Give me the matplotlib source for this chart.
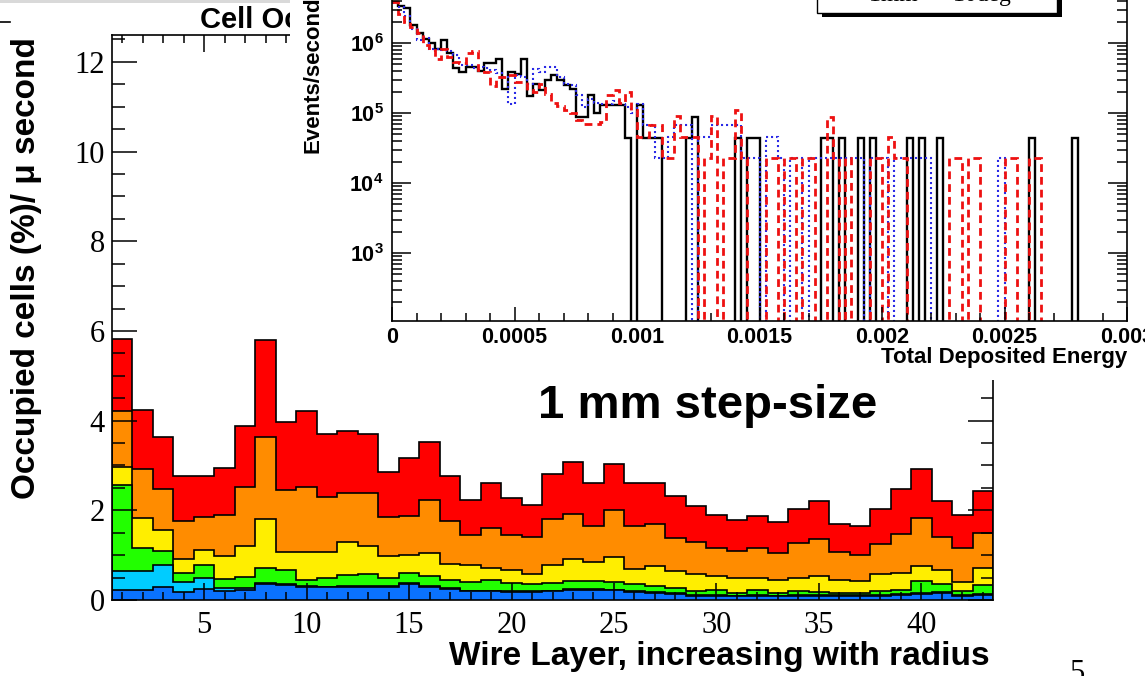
import numpy as np
import matplotlib.pyplot as plt
from matplotlib.patches import Rectangle
from matplotlib.lines import Line2D
from matplotlib.transforms import Bbox, TransformedBbox
from matplotlib.ticker import MultipleLocator, FixedLocator, LogLocator, NullFormatter

plt.rcParams['font.family'] = ['Liberation Sans', 'DejaVu Sans']
plt.rcParams['mathtext.fontset'] = 'custom'
plt.rcParams['mathtext.rm'] = 'Liberation Sans:bold'
plt.rcParams['mathtext.bf'] = 'Liberation Sans:bold'

W, H = 1145, 676

# main plot: cumulative stack tops per wire layer (1..43)
layers = np.arange(1, 44)
top_red = [5.83, 4.24, 3.64, 2.77, 2.77, 2.94, 3.89, 5.79, 3.97, 4.21,
           3.71, 3.77, 3.71, 2.85, 3.17, 3.52, 2.77, 2.24, 2.60, 2.28,
           2.12, 2.80, 3.08, 2.62, 3.04, 2.61, 2.60, 2.33, 2.09, 1.89,
           1.78, 1.88, 1.73, 2.04, 2.21, 1.69, 1.66, 2.02, 2.48, 2.92,
           2.21, 1.89, 2.42]
top_orange = [4.21, 2.92, 2.47, 1.76, 1.86, 1.89, 2.51, 3.63, 2.45, 2.51,
              2.29, 2.39, 2.39, 1.84, 1.88, 2.23, 1.77, 1.44, 1.60, 1.45,
              1.41, 1.80, 1.92, 1.65, 2.00, 1.65, 1.69, 1.39, 1.29, 1.17,
              1.10, 1.17, 1.04, 1.28, 1.37, 1.06, 1.01, 1.25, 1.48, 1.83,
              1.41, 1.15, 1.50]
top_yellow = [2.96, 1.82, 1.56, 0.91, 1.11, 0.98, 1.21, 1.80, 1.07, 1.07,
              1.07, 1.30, 1.21, 0.98, 1.01, 1.04, 0.80, 0.77, 0.72, 0.68,
              0.57, 0.78, 0.92, 0.85, 0.96, 0.70, 0.76, 0.64, 0.57, 0.54,
              0.48, 0.50, 0.44, 0.49, 0.54, 0.45, 0.42, 0.57, 0.61, 0.76,
              0.68, 0.40, 0.72]
top_green = [2.57, 1.17, 1.10, 0.61, 0.78, 0.46, 0.51, 0.72, 0.66, 0.45,
             0.50, 0.55, 0.57, 0.50, 0.60, 0.54, 0.44, 0.41, 0.44, 0.37,
             0.35, 0.39, 0.43, 0.43, 0.40, 0.35, 0.31, 0.27, 0.20, 0.22,
             0.16, 0.22, 0.16, 0.19, 0.18, 0.16, 0.16, 0.19, 0.23, 0.42,
             0.35, 0.20, 0.33]
top_cyan = [0.65, 0.65, 0.79, 0.40, 0.50, 0.26, 0.27, 0.38, 0.35, 0.31,
            0.30, 0.31, 0.31, 0.32, 0.38, 0.32, 0.26, 0.21, 0.21, 0.20,
            0.20, 0.20, 0.24, 0.24, 0.23, 0.19, 0.17, 0.15, 0.11, 0.12,
            0.10, 0.12, 0.10, 0.12, 0.12, 0.11, 0.11, 0.12, 0.14, 0.16,
            0.18, 0.12, 0.14]
top_blue = [0.23, 0.23, 0.28, 0.17, 0.25, 0.20, 0.23, 0.36, 0.33, 0.29,
            0.28, 0.29, 0.29, 0.30, 0.36, 0.30, 0.24, 0.19, 0.19, 0.18,
            0.18, 0.19, 0.23, 0.23, 0.22, 0.18, 0.16, 0.14, 0.10, 0.10,
            0.08, 0.10, 0.08, 0.10, 0.10, 0.09, 0.09, 0.10, 0.12, 0.14,
            0.16, 0.10, 0.12]
stack_colors = ['#ff0000', '#ff8c00', '#ffee00', '#22ff00', '#00ccff', '#0a72ff']

# inset: events/second vs total deposited energy, 120 bins in 0..0.003
e_edges = np.linspace(0, 0.003, 121)
ev_solid = [3.9e6, 3.4e6, 3.2e6, 1.8e6, 1.4e6, 1.15e6, 1.0e6, 8.3e5, 1.12e6, 7.1e5,
            4.4e5, 3.9e5, 4.6e5, 4.6e5, 4.0e5, 5.2e5, 5.2e5, 6.0e5, 2.2e5, 3.9e5,
            3.6e5, 6.0e5, 1.75e5, 2.6e5, 2.15e5, 2.95e5, 3.5e5, 2.95e5, 2.5e5, 2.2e5,
            8.8e4, 8.8e4, 1.8e5, 1.0e5, 1.32e5, 1.32e5, 1.32e5, 1.32e5, 4.4e4, 0,
            1.32e5, 4.4e4, 4.4e4, 4.4e4, 0, 0, 0, 0, 4.4e4, 8.8e4,
            0, 0, 0, 0, 0, 0, 4.4e4, 0, 4.4e4, 4.4e4,
            0, 0, 0, 0, 0, 0, 0, 0, 0, 0,
            4.4e4, 4.4e4, 0, 4.4e4, 0, 0, 4.4e4, 0, 4.4e4, 0,
            0, 0, 0, 0, 4.4e4, 0, 4.4e4, 0, 0, 4.4e4,
            0, 0, 0, 0, 0, 0, 0, 0, 0, 0,
            0, 0, 0, 0, 4.4e4, 0, 0, 0, 0, 0,
            0, 4.4e4, 0, 0, 0, 0, 0, 0, 0, 0]
ev_dotted = [3.7e6, 3.3e6, 2.4e6, 1.6e6, 1.12e6, 1.17e6, 8.3e5, 8.3e5, 7.9e5, 7.8e5,
             6.8e5, 4.9e5, 4.9e5, 4.4e5, 4.5e5, 4.4e5, 4.1e5, 3.7e5, 3.3e5, 1.35e5,
             3.5e5, 3.3e5, 2.6e5, 4.2e5, 3.9e5, 4.6e5, 4.6e5, 3.3e5, 2.6e5, 2.5e5,
             1.8e5, 1.2e5, 1.6e5, 1.4e5, 1.35e5, 1.35e5, 1.5e5, 1.35e5, 1.2e5, 1.0e5,
             1.35e5, 6.7e4, 6.7e4, 2.25e4, 2.25e4, 4.5e4, 6.7e4, 6.7e4, 6.7e4, 0,
             4.5e4, 4.5e4, 6.7e4, 6.7e4, 6.7e4, 6.7e4, 6.7e4, 2.25e4, 2.25e4, 2.25e4,
             0, 4.5e4, 4.5e4, 2.25e4, 0, 2.25e4, 2.25e4, 0, 2.25e4, 2.25e4,
             2.25e4, 2.25e4, 2.25e4, 2.25e4, 2.25e4, 2.25e4, 2.25e4, 0, 2.25e4, 2.25e4,
             2.25e4, 0, 2.25e4, 2.25e4, 2.25e4, 2.25e4, 2.25e4, 2.25e4, 0, 0,
             0, 0, 0, 0, 0, 0, 0, 0, 0, 2.25e4,
             0, 0, 0, 0, 0, 0, 0, 0, 0, 0,
             0, 0, 0, 0, 0, 0, 0, 0, 0, 0]
ev_dashed = [3.9e6, 2.6e6, 2.0e6, 1.7e6, 1.4e6, 9.3e5, 7.9e5, 6.0e5, 8.1e5, 6.3e5,
             5.4e5, 5.1e5, 7.1e5, 7.6e5, 4.1e5, 3.9e5, 2.45e5, 3.3e5, 3.3e5, 3.5e5,
             2.8e5, 2.8e5, 2.15e5, 2.0e5, 2.6e5, 1.9e5, 1.4e5, 1.25e5, 1.1e5, 1.0e5,
             8.0e4, 7.0e4, 7.0e4, 7.0e4, 7.5e4, 1.8e5, 2.1e5, 1.4e5, 2.0e5, 1.1e5,
             4.5e4, 4.5e4, 6.7e4, 6.7e4, 2.25e4, 2.25e4, 9.0e4, 4.5e4, 4.5e4, 4.5e4,
             0, 2.25e4, 9.0e4, 0, 2.25e4, 2.25e4, 1.1e5, 2.25e4, 0, 0,
             0, 2.25e4, 2.25e4, 0, 2.25e4, 2.25e4, 0, 2.25e4, 2.25e4, 0,
             0, 8.8e4, 2.25e4, 0, 2.25e4, 0, 0, 0, 2.25e4, 2.25e4,
             0, 4.5e4, 2.25e4, 2.25e4, 0, 0, 0, 0, 0, 0,
             0, 2.25e4, 2.25e4, 0, 2.25e4, 2.25e4, 0, 0, 0, 0,
             2.25e4, 2.25e4, 0, 0, 2.25e4, 2.25e4, 0, 0, 0, 0,
             0, 0, 0, 0, 0, 0, 0, 0, 0, 0]


def fx(px):
    return px / W


def fy(py):
    return 1 - py / H


fig = plt.figure(figsize=(W / 100, H / 100), dpi=100)

# ---- main stacked histogram
ax = fig.add_axes([fx(112), fy(600), 881 / W, 565 / H])
ax.set_zorder(1)
edges = np.append(layers - 0.5, layers[-1] + 0.5)
tops = [top_red, top_orange, top_yellow, top_green, top_cyan, top_blue]
for i, (top, col) in enumerate(zip(tops, stack_colors)):
    ax.stairs(top, edges, fill=True, facecolor=col, edgecolor='black',
              linewidth=1.2, zorder=1 + i * 0.1)
ax.set_axisbelow(False)
ax.set_xlim(0.5, 43.5)
ax.set_ylim(0, 12.6)
ax.set_xticks(range(5, 45, 5), labels=[str(v) for v in range(5, 45, 5)],
              fontfamily=['Liberation Serif'], fontsize=22)
ax.set_yticks(range(0, 13, 2), labels=[str(v) for v in range(0, 13, 2)],
              fontfamily=['Liberation Serif'], fontsize=22)
ax.xaxis.set_minor_locator(MultipleLocator(1))
ax.yaxis.set_minor_locator(MultipleLocator(0.5))
ax.tick_params(which='both', direction='in', top=True, right=True, width=1.1)
ax.tick_params(axis='y', which='major', length=18, pad=5)
ax.tick_params(axis='y', which='minor', length=9)
ax.tick_params(axis='x', which='major', length=12, pad=8)
ax.tick_params(axis='x', which='minor', length=6)
for s in ax.spines.values():
    s.set_linewidth(1.2)

# title of the main plot, hidden behind the pasted inset from x=290 on
title = fig.text(fx(200), fy(20), 'Cell Occupancy', fontsize=21, fontweight='bold',
                 ha='left', va='center', zorder=0.5)
title.set_clip_box(TransformedBbox(Bbox([[0, 0], [fx(290), 1]]), fig.transFigure))
title.set_clip_on(True)

fig.text(fx(27), fy(268), 'Occupied cells (%)/ \u03bc second', rotation=90,
         fontsize=24, fontweight='bold', ha='center', va='center')
fig.text(fx(990), fy(657), 'Wire Layer, increasing with radius',
         fontsize=24, fontweight='bold', ha='right', va='center')
fig.text(fx(538), fy(406), '1 mm step-size', fontsize=34, fontweight='bold',
         ha='left', va='center', zorder=6)
fig.text(fx(1077), fy(681), '5', fontsize=22, fontfamily=['Liberation Serif'],
         ha='center', va='baseline')

# slide decorations
fig.add_artist(Rectangle((0, fy(3)), fx(290), 3 / H, transform=fig.transFigure,
                         facecolor='#d9d9d9', edgecolor='none', zorder=0.2))
fig.add_artist(Line2D([0, fx(10)], [fy(22), fy(22)], color='black', lw=1.2,
                      zorder=0.3))

# ---- white panel of the pasted inset
fig.add_artist(Rectangle((fx(290), fy(380)), (W - 290) / W, 380 / H,
                         transform=fig.transFigure, facecolor='white',
                         edgecolor='none', zorder=2))

axi = fig.add_axes([fx(392), fy(321), (1127 - 392) / W, 348 / H])
axi.set_zorder(3)
axi.stairs(ev_solid, e_edges, baseline=None, color='black', linewidth=1.7)
axi.stairs(ev_dotted, e_edges, baseline=None, color='#2a2ae6', linewidth=1.5,
           linestyle=(0, (1, 1.4)))
axi.stairs(ev_dashed, e_edges, baseline=None, color='#ee1111', linewidth=2.0,
           linestyle=(0, (2.8, 1.8)))
axi.set_yscale('log')
axi.set_xlim(0, 0.003)
axi.set_ylim(107, 1e7)
xt = [0, 0.0005, 0.001, 0.0015, 0.002, 0.0025, 0.003]
axi.set_xticks(xt, labels=['0', '0.0005', '0.001', '0.0015', '0.002', '0.0025', '0.003'],
               fontsize=15.5, fontweight='bold')
axi.xaxis.set_minor_locator(MultipleLocator(0.0001))
yt = [1e3, 1e4, 1e5, 1e6]
axi.yaxis.set_major_locator(FixedLocator(yt))
axi.set_yticks(yt, labels=[r'$10^{3}$', r'$10^{4}$', r'$10^{5}$', r'$10^{6}$'],
               fontsize=15.5)
axi.yaxis.set_minor_locator(LogLocator(base=10, subs=np.arange(2, 10)))
axi.yaxis.set_minor_formatter(NullFormatter())
axi.tick_params(which='both', direction='in', right=True, width=1.1)
axi.tick_params(axis='y', which='major', length=14, pad=6)
axi.tick_params(axis='y', which='minor', length=7)
axi.tick_params(axis='x', which='major', length=10, pad=4)
axi.tick_params(axis='x', which='minor', length=6)
for s in axi.spines.values():
    s.set_linewidth(1.2)

fig.text(fx(313), fy(153), 'Events/second', rotation=90, fontsize=16,
         fontweight='bold', ha='center', va='bottom', zorder=4)
fig.text(fx(1127), fy(358), 'Total Deposited Energy', fontsize=16,
         fontweight='bold', ha='right', va='center', zorder=4)

# legend box (mostly cut off at the top)
fig.add_artist(Rectangle((fx(822), fy(17)), 240 / W, 40 / H, transform=fig.transFigure,
                         facecolor='black', edgecolor='none', zorder=5))
fig.add_artist(Rectangle((fx(817), fy(13)), 240 / W, 40 / H, transform=fig.transFigure,
                         facecolor='white', edgecolor='black', lw=1.0, zorder=5.1))
fig.text(fx(940), fy(1), '1mm \u2014 10deg', fontsize=17,
         fontfamily=['Liberation Serif'], ha='center', va='baseline', zorder=5.2)

fig.savefig('out.png', dpi=100)
